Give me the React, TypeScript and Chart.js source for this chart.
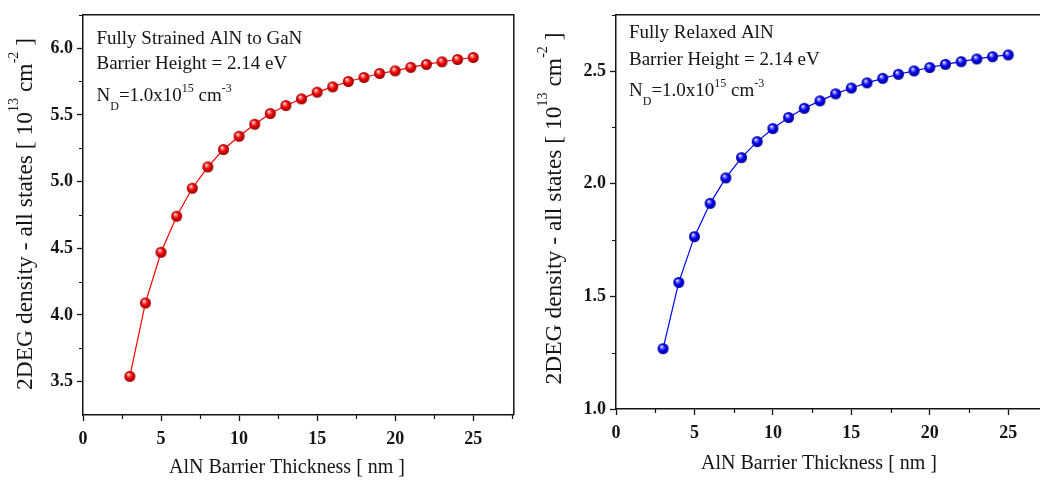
import React, { useEffect, useRef } from "react";
import { Chart, registerables } from "chart.js";

Chart.register(...registerables);

const SERIF = "'Liberation Serif', 'Times New Roman', Times, serif";
const INK = "#141414";

// ---- data ----
const thicknessNm = [3, 4, 5, 6, 7, 8, 9, 10, 11, 12, 13, 14, 15, 16, 17, 18, 19, 20, 21, 22, 23, 24, 25];
const strainedDensity = [
  3.54, 4.09, 4.47, 4.74, 4.95, 5.11, 5.24, 5.34, 5.43, 5.51, 5.57, 5.62,
  5.67, 5.71, 5.75, 5.78, 5.81, 5.83, 5.856, 5.878, 5.898, 5.915, 5.93,
];
const relaxedDensity = [
  1.268, 1.562, 1.765, 1.913, 2.026, 2.116, 2.187, 2.245, 2.294, 2.335, 2.368, 2.399,
  2.425, 2.448, 2.468, 2.486, 2.501, 2.516, 2.53, 2.542, 2.554, 2.564, 2.572,
];
const xMajorTicks = [0, 5, 10, 15, 20, 25];
const xMinorTicks = [2.5, 7.5, 12.5, 17.5, 22.5, 27.5];
const strainedYTicks = [3.5, 4.0, 4.5, 5.0, 5.5, 6.0];
const strainedYMinor = [3.75, 4.25, 4.75, 5.25, 5.75, 6.25];
const relaxedYTicks = [1.0, 1.5, 2.0, 2.5];
const relaxedYMinor = [1.25, 1.75, 2.25, 2.75];

const xTitleText = "AlN Barrier Thickness [ nm ]";
const strainedNote1 = "Fully Strained AlN to GaN";
const relaxedNote1 = "Fully Relaxed AlN";
const barrierNote = "Barrier Height = 2.14 eV";

type Seg = { t: string; size: number; dy: number };

const dopingSegs: Seg[] = [
  { t: "N", size: 19, dy: 0 },
  { t: "D", size: 12, dy: 9 },
  { t: "=1.0x10", size: 19, dy: 0 },
  { t: "15", size: 12, dy: -9 },
  { t: " cm", size: 19, dy: 0 },
  { t: "-3", size: 12, dy: -9 },
];

const yTitleSegs: Seg[] = [
  { t: "2DEG density - all states [ 10", size: 23.5, dy: 0 },
  { t: "13", size: 14, dy: -14 },
  { t: " cm", size: 23.5, dy: 0 },
  { t: "-2", size: 14, dy: -14 },
  { t: " ]", size: 23.5, dy: 0 },
];

function richWidth(ctx: CanvasRenderingContext2D, segs: Seg[]) {
  let w = 0;
  for (const s of segs) {
    ctx.font = `${s.size}px ${SERIF}`;
    w += ctx.measureText(s.t).width;
  }
  return w;
}

function drawRich(ctx: CanvasRenderingContext2D, x: number, y: number, segs: Seg[]) {
  let cx = x;
  for (const s of segs) {
    ctx.font = `${s.size}px ${SERIF}`;
    ctx.fillText(s.t, cx, y + s.dy);
    cx += ctx.measureText(s.t).width;
  }
}

function sphere(light: string, base: string, dark: string, d = 11) {
  const c = document.createElement("canvas");
  c.width = d + 2;
  c.height = d + 2;
  const g = c.getContext("2d")!;
  const r = d / 2;
  const cx = c.width / 2;
  const cy = c.height / 2;
  const grad = g.createRadialGradient(cx - r * 0.3, cy - r * 0.4, r * 0.05, cx, cy, r);
  grad.addColorStop(0, "#ffffff");
  grad.addColorStop(0.2, light);
  grad.addColorStop(0.55, base);
  grad.addColorStop(1, dark);
  g.fillStyle = grad;
  g.beginPath();
  g.arc(cx, cy, r, 0, Math.PI * 2);
  g.fill();
  return c;
}

interface PanelSpec {
  values: number[];
  color: string;
  marker: [string, string, string];
  yMin: number;
  yMax: number;
  yTicks: number[];
  yMinor: number[];
  canvasWidth: number;
  padTop: number;
  padRight: number;
  yWidth: number;
  xHeight: number;
  noteX: number;
  noteY: [number, number, number];
  note1: string;
  xTitle: [number, number];
  yTitle: [number, number];
}

const strainedPanel: PanelSpec = {
  values: strainedDensity,
  color: "#ff0000",
  marker: ["#ff8080", "#f00000", "#900000"],
  yMin: 3.25,
  yMax: 6.25,
  yTicks: strainedYTicks,
  yMinor: strainedYMinor,
  canvasWidth: 520,
  padTop: 13,
  padRight: 4,
  yWidth: 83,
  xHeight: 65,
  noteX: 96.5,
  noteY: [44, 69, 101],
  note1: strainedNote1,
  xTitle: [287, 473],
  yTitle: [32, 214],
};

const relaxedPanel: PanelSpec = {
  values: relaxedDensity,
  color: "#0000ff",
  marker: ["#8080ff", "#0000f0", "#000090"],
  yMin: 1.0,
  yMax: 2.75,
  yTicks: relaxedYTicks,
  yMinor: relaxedYMinor,
  canvasWidth: 540,
  padTop: 7,
  padRight: 11,
  yWidth: 96,
  xHeight: 71,
  noteX: 109,
  noteY: [38, 65, 96],
  note1: relaxedNote1,
  xTitle: [299, 469],
  yTitle: [41, 208.5],
};

function buildConfig(spec: PanelSpec): any {
  const marker = sphere(spec.marker[0], spec.marker[1], spec.marker[2]);
  const decor = {
    id: "decor",
    afterDraw(chart: any) {
      const { ctx, chartArea: a, scales } = chart;
      const xs = scales.x;
      const ys = scales.y;
      ctx.save();
      ctx.strokeStyle = INK;
      ctx.lineWidth = 1.5;
      ctx.beginPath();
      ctx.moveTo(a.left, a.top);
      ctx.lineTo(a.right, a.top);
      ctx.lineTo(a.right, a.bottom);
      ctx.stroke();
      ctx.lineWidth = 1.2;
      ctx.beginPath();
      for (const v of xMinorTicks) {
        const px = Math.round(xs.getPixelForValue(v)) + 0.5;
        ctx.moveTo(px, a.bottom);
        ctx.lineTo(px, a.bottom + 4);
      }
      for (const v of spec.yMinor) {
        const py = Math.round(ys.getPixelForValue(v)) + 0.5;
        ctx.moveTo(a.left - 4, py);
        ctx.lineTo(a.left, py);
      }
      ctx.stroke();

      ctx.fillStyle = INK;
      ctx.textAlign = "left";
      ctx.textBaseline = "alphabetic";
      ctx.font = `19px ${SERIF}`;
      ctx.fillText(spec.note1, spec.noteX, spec.noteY[0]);
      ctx.fillText(barrierNote, spec.noteX, spec.noteY[1]);
      drawRich(ctx, spec.noteX, spec.noteY[2], dopingSegs);

      ctx.textAlign = "center";
      ctx.font = `20px ${SERIF}`;
      ctx.fillText(xTitleText, spec.xTitle[0], spec.xTitle[1]);

      ctx.textAlign = "left";
      ctx.translate(spec.yTitle[0], spec.yTitle[1]);
      ctx.rotate(-Math.PI / 2);
      const w = richWidth(ctx, yTitleSegs);
      drawRich(ctx, -w / 2, 0, yTitleSegs);
      ctx.restore();
    },
  };

  return {
    type: "line",
    data: {
      datasets: [
        {
          data: thicknessNm.map((x, i) => ({ x, y: spec.values[i] })),
          borderColor: spec.color,
          borderWidth: 1.2,
          tension: 0,
          pointStyle: marker,
          pointRadius: 5,
          pointHoverRadius: 5,
          fill: false,
        },
      ],
    },
    options: {
      animation: false,
      responsive: false,
      devicePixelRatio: 1,
      events: [],
      layout: { padding: { top: spec.padTop, right: spec.padRight, bottom: 0, left: 0 } },
      plugins: { legend: { display: false }, tooltip: { enabled: false } },
      scales: {
        x: {
          type: "linear",
          min: 0,
          max: 27.6,
          afterBuildTicks: (scale: any) => {
            scale.ticks = xMajorTicks.map((v) => ({ value: v }));
          },
          afterFit: (scale: any) => {
            scale.height = spec.xHeight;
          },
          grid: { drawOnChartArea: false, drawTicks: true, tickLength: 6, tickColor: INK, tickWidth: 1.3 },
          border: { display: true, color: INK, width: 1.5 },
          ticks: {
            autoSkip: false,
            maxRotation: 0,
            padding: 8,
            color: INK,
            font: { family: SERIF, size: 18, weight: "bold" },
            callback: (v: any) => String(v),
          },
        },
        y: {
          type: "linear",
          min: spec.yMin,
          max: spec.yMax,
          afterBuildTicks: (scale: any) => {
            scale.ticks = spec.yTicks.map((v) => ({ value: v }));
          },
          afterFit: (scale: any) => {
            scale.width = spec.yWidth;
          },
          grid: { drawOnChartArea: false, drawTicks: true, tickLength: 6, tickColor: INK, tickWidth: 1.3 },
          border: { display: true, color: INK, width: 1.5 },
          ticks: {
            autoSkip: false,
            padding: 4,
            color: INK,
            font: { family: SERIF, size: 18, weight: "bold" },
            callback: (v: any) => Number(v).toFixed(1),
          },
        },
      },
    },
    plugins: [decor],
  };
}

function Panel({ spec }: { spec: PanelSpec }) {
  const ref = useRef<HTMLCanvasElement>(null);
  useEffect(() => {
    if (!ref.current) return;
    const chart = new Chart(ref.current, buildConfig(spec));
    return () => chart.destroy();
  }, [spec]);
  return (
    <canvas
      ref={ref}
      width={spec.canvasWidth}
      height={480}
      style={{ display: "block", width: spec.canvasWidth, height: 480 }}
    />
  );
}

export default function App() {
  return (
    <div
      style={{
        position: "fixed",
        left: 0,
        top: 0,
        width: 1040,
        height: 480,
        background: "#ffffff",
        overflow: "hidden",
      }}
    >
      <div style={{ position: "absolute", left: 0, top: 0, width: 520, height: 480, overflow: "hidden" }}>
        <Panel spec={strainedPanel} />
      </div>
      <div style={{ position: "absolute", left: 520, top: 0, width: 520, height: 480, overflow: "hidden" }}>
        <Panel spec={relaxedPanel} />
      </div>
    </div>
  );
}
